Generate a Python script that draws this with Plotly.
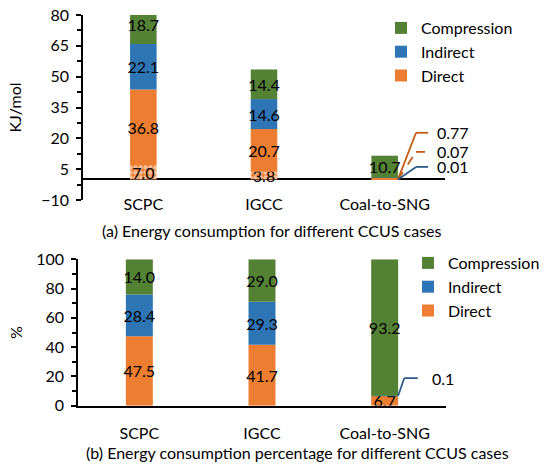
import plotly.graph_objects as go

# ---------------- data ----------------
categories = ["SCPC", "IGCC", "Coal-to-SNG"]

# (a) energy consumption, KJ/mol
energy_direct_hatched = [7.0, 3.8, 0.07]
energy_direct = [36.8, 20.7, 0.77]
energy_indirect = [22.1, 14.6, 0.01]
energy_compression = [18.7, 14.4, 10.7]

# (b) energy consumption percentage, %
pct_direct = [47.5, 41.7, 6.7]
pct_indirect = [28.4, 29.3, 0.1]
pct_compression = [24.1, 29.0, 93.2]          # drawn segment heights
pct_compression_labels = ["14.0", "29.0", "93.2"]  # printed data labels

ORANGE = "#ED7D31"
BLUE = "#2E75B6"
GREEN = "#548235"
FONT = "Lato"
W, H = 547, 464


def lbl(vals, skip_last=False):
    out = [f"{v:.1f}" for v in vals]
    if skip_last:
        out[-1] = ""
    return out


common = dict(textposition="inside", insidetextanchor="middle", textangle=0,
              constraintext="none", width=0.22,
              textfont=dict(family=FONT, size=16, color="black"),
              marker_line_width=0, hoverinfo="skip")

fig = go.Figure()

# ---- top chart ----
fig.add_bar(x=categories, y=energy_direct_hatched, name="Direct (hatched)",
            text=lbl(energy_direct_hatched, True), showlegend=False,
            marker=dict(color=ORANGE, pattern=dict(shape=".", fgcolor="white",
                                                   bgcolor=ORANGE, size=5, solidity=0.6)),
            xaxis="x", yaxis="y", **common)
fig.add_bar(x=categories, y=energy_direct, name="Direct", text=lbl(energy_direct, True),
            marker_color=ORANGE, legend="legend", xaxis="x", yaxis="y", **common)
fig.add_bar(x=categories, y=energy_indirect, name="Indirect", text=lbl(energy_indirect, True),
            marker_color=BLUE, legend="legend", xaxis="x", yaxis="y", **common)
fig.add_bar(x=categories, y=energy_compression, name="Compression",
            text=lbl(energy_compression), marker_color=GREEN, legend="legend",
            xaxis="x", yaxis="y", **common)

# ---- bottom chart ----
fig.add_bar(x=categories, y=pct_direct, name="Direct", text=lbl(pct_direct),
            marker_color=ORANGE, legend="legend2", xaxis="x2", yaxis="y2", **common)
fig.add_bar(x=categories, y=pct_indirect, name="Indirect", text=lbl(pct_indirect, True),
            marker_color=BLUE, legend="legend2", xaxis="x2", yaxis="y2", **common)
fig.add_bar(x=categories, y=pct_compression, name="Compression",
            text=pct_compression_labels, marker_color=GREEN, legend="legend2",
            xaxis="x2", yaxis="y2", **common)


def px_x(p):
    return p / W


def px_y(p):
    return 1 - p / H


tickfont = dict(family=FONT, size=16, color="black")
yaxis_common = dict(showgrid=False, showline=True, linecolor="black", linewidth=1.5,
                    ticks="outside", ticklen=5, tickwidth=1.5, tickcolor="black",
                    tickfont=tickfont, ticklabelstandoff=4, automargin=False)

fig.update_layout(
    width=W, height=H, margin=dict(l=0, r=0, t=0, b=0),
    paper_bgcolor="white", plot_bgcolor="white",
    barmode="relative", font=dict(family=FONT, size=16, color="black"),
    xaxis=dict(domain=[px_x(83), px_x(445)], anchor="y", type="category",
               range=[-0.5, 2.5], showline=False, ticks="", showgrid=False,
               tickfont=tickfont, automargin=False, ticklabelstandoff=-7),
    yaxis=dict(domain=[px_y(200), px_y(15)], anchor="x", range=[-10, 80],
               tick0=-10, dtick=15, zeroline=True, zerolinecolor="black",
               zerolinewidth=2,
               minor=dict(ticks="outside", ticklen=4, tickcolor="black", dtick=7.5,
                          tick0=-10),
               title=dict(text="KJ/mol", font=dict(family=FONT, size=16), standoff=16),
               **yaxis_common),
    xaxis2=dict(domain=[px_x(78), px_x(446)], anchor="y2", type="category",
                range=[-0.5, 2.5], showline=True, linecolor="black", linewidth=1.5,
                ticks="", showgrid=False, tickfont=tickfont, automargin=False,
                ticklabelstandoff=12),
    yaxis2=dict(domain=[px_y(405.7), px_y(259.3)], anchor="x2", range=[0, 100],
                dtick=20, zeroline=False,
                minor=dict(ticks="outside", ticklen=4, tickcolor="black", dtick=10),
                title=dict(text="%", font=dict(family=FONT, size=16), standoff=10),
                **yaxis_common),
    legend=dict(x=px_x(381), y=px_y(11), xanchor="left", yanchor="top",
                traceorder="reversed", bgcolor="rgba(0,0,0,0)",
                font=dict(family=FONT, size=16), itemclick=False),
    legend2=dict(x=px_x(408), y=px_y(246), xanchor="left", yanchor="top",
                 traceorder="reversed", bgcolor="rgba(0,0,0,0)",
                 font=dict(family=FONT, size=16), itemclick=False),
)

# ---- leader lines + small-value labels (top, Coal-to-SNG) ----
leaders_top = [
    (energy_direct[2], "#C55A11", "solid", 22.7),
    (energy_direct_hatched[2], "#C55A11", "dash", 13.4),
    (energy_indirect[2], "#2E5C8A", "solid", 6.1),
]
for val, col, dash, ly in leaders_top:
    fig.add_shape(type="line", xref="x", yref="y", x0=2.11, y0=0, x1=2.26, y1=ly,
                  line=dict(color=col, width=1.8, dash=dash))
    fig.add_shape(type="line", xref="x", yref="y", x0=2.26, y0=ly, x1=2.36, y1=ly,
                  line=dict(color=col, width=1.8, dash=dash))
    fig.add_annotation(xref="x", yref="y", x=2.42, y=ly, text=f"{val:.2f}",
                       showarrow=False, xanchor="left", yanchor="middle",
                       font=dict(family=FONT, size=16, color="black"))

# ---- leader line (bottom, Coal-to-SNG indirect) ----
base = pct_direct[2] + pct_indirect[2]
fig.add_shape(type="line", xref="x2", yref="y2", x0=2.11, y0=base, x1=2.16, y1=18.9,
              line=dict(color="#2E5C8A", width=1.8))
fig.add_shape(type="line", xref="x2", yref="y2", x0=2.16, y0=18.9, x1=2.27, y1=18.9,
              line=dict(color="#2E5C8A", width=1.8))
fig.add_annotation(xref="x2", yref="y2", x=2.37, y=18.9, text=f"{pct_indirect[2]:.1f}",
                   showarrow=False, xanchor="left", yanchor="middle",
                   font=dict(family=FONT, size=16, color="black"))

# ---- captions ----
fig.add_annotation(xref="paper", yref="paper", x=px_x(272), y=px_y(231),
                   text="(a) Energy consumption for different CCUS cases",
                   showarrow=False, xanchor="center", yanchor="middle",
                   font=dict(family=FONT, size=16, color="black"))
fig.add_annotation(xref="paper", yref="paper", x=px_x(298), y=px_y(452),
                   text="(b) Energy consumption percentage for different CCUS cases",
                   showarrow=False, xanchor="center", yanchor="middle",
                   font=dict(family=FONT, size=16, color="black"))

fig.write_html("out.html", config={"displayModeBar": False},
               post_script="document.body.style.margin='0';"
                           "document.body.style.overflow='hidden';")
